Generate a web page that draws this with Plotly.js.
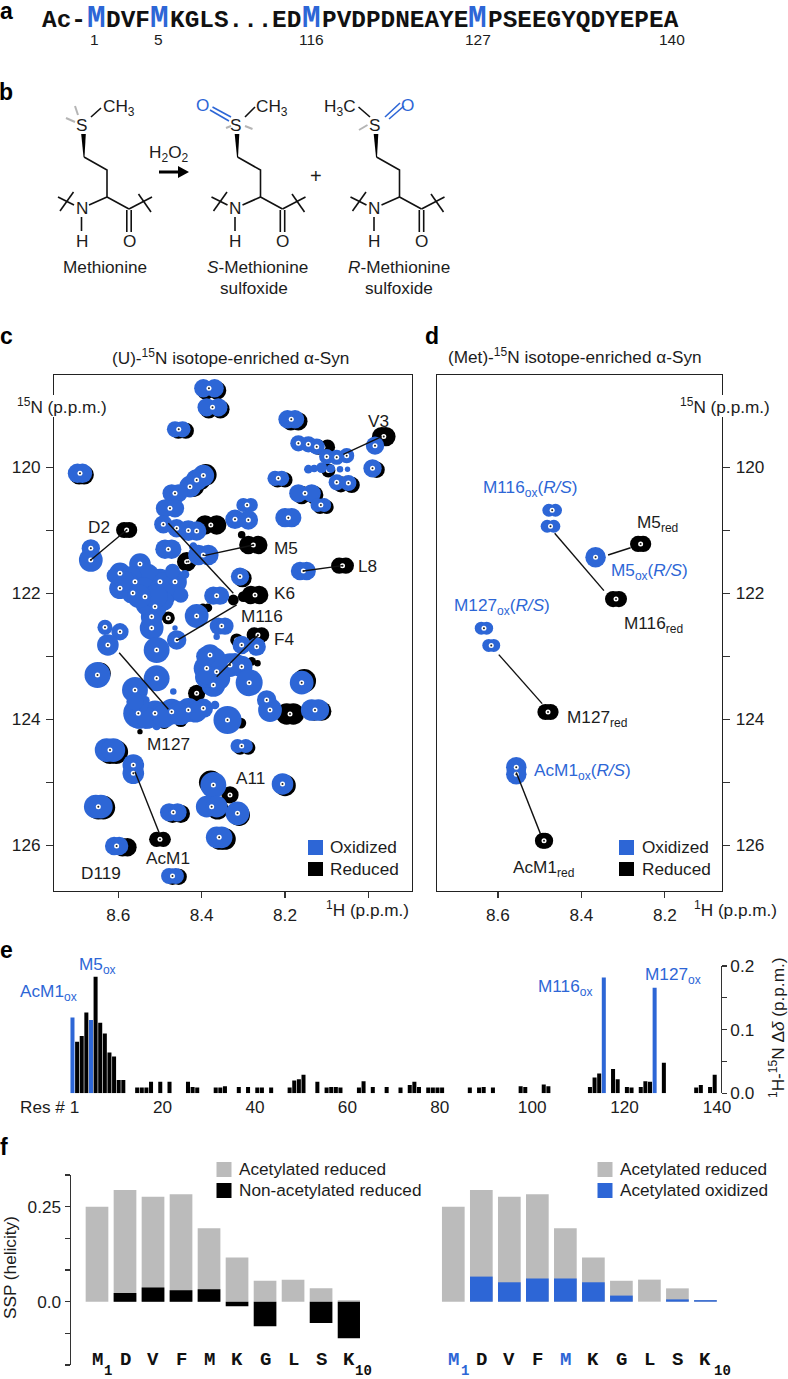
<!DOCTYPE html>
<html><head><meta charset="utf-8">
<script src="https://cdn.plot.ly/plotly-3.0.1.min.js"></script>
<style>html,body{margin:0;padding:0;background:#fff}#g{width:788px;height:1379px}</style>
</head><body><div id="g"></div>
<script>
var W=788,H=1379,BLUE='#2d66d6',INK='#1c1c1c',GREY='#bbbbbb',SANS='"Liberation Sans",Arial,sans-serif',MONO='"Liberation Mono",monospace',FS=17.2,SPOT=1.08;

// ---- panel c: oxidized peaks (1H ppm, 15N ppm, drawn size)
var oxX=[8.396,8.369,8.388,8.360,8.464,8.446,8.194,8.176,8.168,8.144,8.124,7.984,8.100,8.076,8.052,8.144,8.112,8.068,7.99,8.076,8.048,8.224,8.208,8.168,8.136,8.122,8.106,8.698,8.686,8.428,8.412,8.396,8.472,8.456,8.488,8.464,8.30,8.282,8.32,8.288,8.2,8.184,8.492,8.46,8.432,8.412,8.666,8.666,8.488,8.472,8.408,8.384,8.42,8.308,8.164,8.148,8.372,8.356,
8.548,8.596,8.596,8.56,8.50,8.464,8.536,8.512,8.565,8.52,8.52,8.46,8.464,8.508,8.412,8.632,8.596,8.625,
8.36,8.344,8.364,8.304,8.268,8.38,8.388,8.364,8.332,8.304,8.372,8.286,8.16,8.65,8.508,8.56,8.552,8.512,8.472,8.432,8.396,8.368,8.468,8.508,8.338,8.244,8.236,8.136,8.12,8.628,8.612,8.564,8.564,8.314,8.294,8.372,8.388,8.364,8.314,8.206,8.654,8.642,8.478,8.458,8.364,8.352,8.61,8.598,8.478,8.462];
var oxY=[118.746,118.746,119.048,119.048,119.397,119.397,119.238,119.238,119.619,119.635,119.672,119.656,119.831,119.841,119.815,120.03,120.005,120.03,120.016,120.238,120.249,120.175,120.175,120.413,120.413,120.598,120.598,120.095,120.095,120.307,120.201,120.132,120.413,120.413,120.651,120.651,120.598,120.598,120.825,120.836,120.799,120.799,120.905,120.968,121.005,121.011,121.286,121.471,121.30,121.30,121.392,121.392,121.26,121.735,121.646,121.646,122.037,122.037,
121.535,121.683,121.92,121.816,121.816,121.816,122.054,122.213,121.995,122.55,122.37,122.74,122.55,122.9,122.36,122.54,122.61,122.82,
122.52,122.52,122.69,122.82,122.847,122.98,123.19,123.243,123.138,123.164,123.455,123.418,123.418,123.296,123.349,123.534,123.905,123.905,123.878,123.852,123.825,123.772,123.56,124.106,124.01,123.693,123.852,123.852,123.852,124.487,124.487,124.725,124.857,124.423,124.423,125.042,125.386,125.386,125.492,125.026,125.386,125.386,125.476,125.476,125.873,125.873,126.011,126.011,126.487,126.487];
var oxS=[17,17,17,17,15,15,17,17,15,15,15,17,14,14,14,8,10,6,17,15,15,14,14,17,17,13,13,18,18,20,20,20,17,17,17,17,13,13,18,18,18,18,17,17,19,18,17,22,18,18,19,19,8,17,17,17,17,17,
20,20,20,18,24,22,24,22,16,22,20,18,5,24,22,14,16,20,
16,16,6,17,17,20,24,24,22,20,22,25,22,24,24,24,28,24,24,22,18,8,6,8,26,18,22,20,20,22,22,20,20,13,13,24,20,20,22,20,22,22,17,17,20,20,17,17,15,15];

// ---- panel c: overlapping contours that merge the crowded peaks
var oxFillX=[8.53,8.57,8.49,8.54,8.50,8.47,8.575,8.53,8.57,8.52,8.49,8.45,8.376,8.39,8.55,8.535,8.495,8.455,8.415,8.535,8.13,8.09,8.05,8.37,8.39,8.36,8.385,8.32,8.53,8.49,8.45,8.41,8.55,8.56,8.51,8.55,8.585,8.61,8.47,8.44];
var oxFillY=[121.72,121.74,121.85,121.95,121.97,121.98,121.82,122.17,122.02,122.44,122.12,122.03,123.33,123.33,123.98,123.7,123.92,123.9,123.88,124.03,120.02,120.02,120.03,123.05,123.0,123.35,123.3,123.1,123.98,123.95,123.92,123.88,123.75,123.72,122.05,122.05,121.8,121.72,121.65,121.7];
var oxFillS=[22,20,22,24,22,16,18,22,16,18,18,14,20,20,20,8,22,22,20,14,7,8,5,22,18,22,18,18,20,22,20,18,18,16,22,22,18,14,14,8];

// ---- panel c: reduced peaks
var redX=[8.390,8.363,8.383,8.355,8.456,8.438,8.186,8.168,8.12,8.098,7.968,7.958,7.98,8.066,8.04,8.096,8.218,8.20,8.16,8.13,8.116,8.10,8.694,8.682,8.42,8.404,8.39,8.586,8.574,8.392,8.364,8.432,8.288,8.264,8.304,8.302,8.07,8.054,8.282,8.262,8.324,8.30,8.397,8.385,8.48,8.48,8.436,8.274,8.256,8.316,8.266,8.412,8.196,8.18,8.13,8.112,8.644,8.49,8.45,8.62,8.605,8.308,8.288,8.378,8.332,8.362,8.31,8.2,8.648,8.636,8.47,8.45,8.356,8.344,8.59,8.578,8.47,8.455,8.508,8.492,8.154,8.28,8.498,8.548,8.306];
var redY=[118.78,118.78,119.08,119.08,119.42,119.42,119.27,119.27,119.68,119.68,119.513,119.513,120.04,120.27,120.28,120.05,120.2,120.2,120.44,120.44,120.63,120.63,120.12,120.12,120.3,120.19,120.12,120.995,120.995,120.915,120.915,121.497,121.233,121.233,121.07,121.76,121.561,121.561,122.026,122.026,122.106,122.053,122.23,122.23,122.07,122.39,121.5,122.66,122.66,122.74,123.11,123.587,123.915,123.915,123.87,123.87,123.27,124.05,124.02,124.52,124.52,124.45,124.45,125.0,125.2,125.42,125.52,125.05,125.4,125.4,125.5,125.5,125.9,125.9,126.03,126.03,126.5,126.5,125.905,125.905,123.39,123.08,124.04,124.196,124.06];
var redS=[17,17,17,17,15,15,17,17,14,14,18,18,15,15,15,13,14,14,17,17,13,13,18,18,20,20,20,15,15,18,18,15,17,17,7,17,15,15,17,17,10,10,8,8,12,12,18,14,14,12,6,16,20,20,18,18,20,12,12,22,22,13,13,22,16,20,20,20,22,22,17,17,20,20,17,17,15,15,14,14,22,8,10,5,10];

// ---- panel c: assignment lines (pairs of ends, oxidized then reduced)
var linkCX=[8.666,8.58,null,8.06,7.968,null,8.394,8.276,null,8.156,8.062,null,8.48,8.324,null,8.46,8.316,null,8.364,8.264,null,8.598,8.48,null,8.56,8.502];
var linkCY=[121.471,120.995,null,119.794,119.513,null,121.402,121.233,null,121.646,121.561,null,120.889,122.0,null,122.751,122.185,null,123.323,122.66,null,122.942,123.841,null,124.831,125.8];

// ---- panel d: methionine peaks
var dOxX=[8.478,8.462,8.482,8.466,8.366,8.64,8.627,8.622,8.61,8.556,8.556];
var dOxY=[120.681,120.681,120.936,120.936,121.429,122.553,122.553,122.827,122.827,124.76,124.87];
var dOxS=[12,12,12,12,19,12,12,12,12,19,19];
var dRedX=[8.264,8.252,8.324,8.31,8.486,8.474,8.492,8.487];
var dRedY=[121.216,121.216,122.091,122.091,123.884,123.884,125.927,125.927];
var dRedS=[15,15,15,15,15,15,15,15];
var linkDX=[8.464,8.346,null,8.336,8.282,null,8.598,8.494,null,8.556,8.498];
var linkDY=[121.046,121.957,null,121.392,121.277,null,122.973,123.751,null,124.845,125.818];

// ---- panel e: chemical shift difference per residue
var resBlack=[2,3,4,6,7,8,9,10,11,12,15,16,17,18,20,22,26,27,28,32,33,34,37,39,41,42,44,48,49,50,51,54,56,57,58,59,63,64,66,69,72,74,75,76,78,79,80,81,87,89,90,92,98,99,103,104,113,114,115,118,119,121,122,124,125,126,129,136,137,139,140];
var dDelta=[.081,.090,.127,.183,.111,.094,.064,.058,.021,.021,.009,.009,.009,.018,.018,.018,.018,.010,.009,.009,.009,.011,.010,.010,.009,.009,.009,.009,.020,.022,.029,.018,.009,.010,.010,.009,.009,.019,.010,.010,.009,.013,.018,.010,.009,.009,.009,.009,.009,.009,.010,.009,.011,.010,.014,.011,.010,.025,.031,.038,.022,.010,.009,.010,.019,.018,.048,.009,.013,.010,.029];
var resMet=[1,5,116,127];
var dDeltaMet=[.119,.115,.182,.166];
var resTicks=[20,40,60,80,100,120,140];
var deltaTicks=[0,.1,.2];
var deltaLabels=['0.0','0.1','0.2'];
var deltaMinor=[.05,.15];

// ---- panel f: SSP
var residues=['M','D','V','F','M','K','G','L','S','K'];
var position=[1,2,3,4,5,6,7,8,9,10];
var sspAcReduced=[.25,.294,.276,.283,.193,.116,.055,.058,.035,.004];
var sspNonAcReduced=[0,.023,.037,.03,.033,-.012,-.065,0,-.056,-.096];
var sspAcOxidized=[0,.066,.051,.061,.061,.051,.016,0,.006,.004];
var sspTicks=[0,.25];
var sspLabels=['0.0','0.25'];
var sspMinor=[-.16667,-.08333,.08333,.16667,.33333];

// ---- panel b: drawing of the amino acid (page pixels)
var skelX=[84,107,107,129,null,107,89,null,81.5,81.5,null,74,58,null,60,73.5,null,129,152,null,138.5,151,null,126.8,126.8,null,131.2,131.2];
var skelY=[157,170,197,209,null,197,205,null,217,231,null,205,197,null,211,192,null,209,197,null,194,212,null,210,232,null,210,232];
var wedgeX=[81.2,85.8,84.5,83.5,81.2];
var wedgeY=[134,134,157,157,134];
var skelShift=[0,153.5,292.5];
var blackTopX=[91,101,null,245,255,null,358.5,370];
var blackTopY=[117,108,null,117,107,null,107,117];
var greyTopX=[75,78,null,66,75,null,245,252.5,null,231,226,null,367.5,359];
var greyTopY=[106,115,null,118,122,null,126,129,null,126,128,null,125,130];
var blueTopX=[212.5,231,null,210,229,null,385,400,null,389,404];
var blueTopY=[107,117,null,110,121,null,117,103,null,119,106];
var arrowX=[159,178,178,189,178,178,159,159];
var arrowY=[170.5,170.5,166,172,178,173.5,173.5,170.5];

function dx(a,b){return [a/W,b/W];}
function dy(t,b){return [1-b/H,1-t/H];}
var traces=[];
function line(x,y,xa,ya,w,c){traces.push({type:'scatter',mode:'lines',x:x,y:y,xaxis:xa,yaxis:ya,line:{color:c,width:w},hoverinfo:'skip',connectgaps:false,showlegend:false});}
function dots(x,y,xa,ya,s,c){traces.push({type:'scatter',mode:'markers',x:x,y:y,xaxis:xa,yaxis:ya,marker:{size:s,color:c,opacity:1,line:{width:0}},hoverinfo:'skip',showlegend:false});}
// a peak listed as two side-by-side blobs gets one centre, half way between them
function centres(ax,ay,as,min){
  var cx=[],cy=[];
  for(var i=0;i<ax.length;i++){
    if(as[i]<min)continue;
    if(i+1<ax.length&&ay[i+1]===ay[i]&&as[i+1]===as[i]&&Math.abs(ax[i+1]-ax[i])<.04){cx.push((ax[i]+ax[i+1])/2);cy.push(ay[i]);i++;}
    else{cx.push(ax[i]);cy.push(ay[i]);}
  }
  return {x:cx,y:cy};
}
function grow(a){return a.map(function(v){return v*SPOT;});}
function peaks(ax,ay,as,bx,by,bs,fx,fy,fs,lx,ly,xa,ya){
  var ca=centres(ax,ay,as,12),cb=centres(bx,by,bs,12);
  dots(ax,ay,xa,ya,grow(as),'#000');
  dots(ca.x,ca.y,xa,ya,5,'#fff');
  dots(ca.x,ca.y,xa,ya,2,'#222');
  dots(bx,by,xa,ya,grow(bs),BLUE);
  if(fx.length)dots(fx,fy,xa,ya,grow(fs),BLUE);
  dots(cb.x,cb.y,xa,ya,5,'#fff');
  dots(cb.x,cb.y,xa,ya,2,'#222');
  line(lx,ly,xa,ya,1.4,'#111');
}
peaks(redX,redY,redS,oxX,oxY,oxS,oxFillX,oxFillY,oxFillS,linkCX,linkCY,'x','y');
peaks(dRedX,dRedY,dRedS,dOxX,dOxY,dOxS,[],[],[],linkDX,linkDY,'x2','y2');

traces.push({type:'bar',x:resBlack,y:dDelta,width:.87,marker:{color:'#000',line:{width:0}},xaxis:'x3',yaxis:'y3',hoverinfo:'skip',showlegend:false});
traces.push({type:'bar',x:resMet,y:dDeltaMet,width:.87,marker:{color:BLUE,line:{width:0}},xaxis:'x3',yaxis:'y3',hoverinfo:'skip',showlegend:false});

function bars(v,c,xa,ya){traces.push({type:'bar',x:position,y:v,width:.81,marker:{color:c,line:{width:0}},xaxis:xa,yaxis:ya,hoverinfo:'skip',showlegend:false});}
bars(sspAcReduced,GREY,'x4','y4');bars(sspNonAcReduced,'#000','x4','y4');
bars(sspAcReduced,GREY,'x5','y5');bars(sspAcOxidized,BLUE,'x5','y5');

skelShift.forEach(function(s){
  function sh(a){return a.map(function(v){return v===null?null:v+s;});}
  line(sh(skelX),skelY,'x6','y6',1.6,'#111');
  traces.push({type:'scatter',mode:'lines',x:sh(wedgeX),y:wedgeY,fill:'toself',fillcolor:'#000',line:{width:0,color:'#000'},xaxis:'x6',yaxis:'y6',hoverinfo:'skip',showlegend:false});
});
line(blackTopX,blackTopY,'x6','y6',1.6,'#111');
line(greyTopX,greyTopY,'x6','y6',2,'#b5b5b5');
line(blueTopX,blueTopY,'x6','y6',1.6,BLUE);
traces.push({type:'scatter',mode:'lines',x:arrowX,y:arrowY,fill:'toself',fillcolor:'#000',line:{width:0,color:'#000'},xaxis:'x6',yaxis:'y6',hoverinfo:'skip',showlegend:false});

var ann=[];
function T(text,x,y,size,color,anchor,extra){
  var a={text:text,x:x,y:y,xref:'x6',yref:'y6',showarrow:false,xanchor:anchor||'center',yanchor:'middle',borderpad:0,borderwidth:0,
    font:{family:SANS,size:size||FS,color:color||INK}};
  if(extra)for(var k in extra)a[k]=extra[k];
  ann.push(a);
}
// panel letters
[['a',6,11],['b',6,92],['c',6,336],['d',432,336],['e',6,950],['f',4,1147]].forEach(function(p){T('<b>'+p[0]+'</b>',p[1],p[2],23,'#000');});
// panel a
function seq(t,x,c,s,y){T('<b>'+t+'</b>',x,y||20,s||24.4,c||'#111','left',{font:{family:MONO,size:s||24.4,color:c||'#111'}});}
seq('Ac-',42);seq('DVF',106);seq('KGLS...',170);seq('ED',272);seq('PVDPDNEAYE',322);seq('PSEEGYQDYEPEA',488);
[87,150,302,468].forEach(function(x){seq('M',x,BLUE,31,18);});
[['1',94],['5',158],['116',311],['127',478],['140',672]].forEach(function(p){T(p[0],p[1],39,15.5);});
// panel b
skelShift.forEach(function(s){
  T('S',81.5+s,125,FS);T('N',81.5+s,208,FS);T('H',81.5+s,241,FS);T('O',129+s,241,FS);
});
T('CH<sub>3</sub>',119,107,FS);T('CH<sub>3</sub>',272,107,FS);T('H<sub>3</sub>C',340,107,FS);
T('O',202.5,105,FS,BLUE);T('O',407.5,105,FS,BLUE);
T('H<sub>2</sub>O<sub>2</sub>',169,153,FS);T('+',316,176,20);
T('Methionine',105,267);T('<i>S</i>-Methionine',257.5,267);T('sulfoxide',254,288);T('<i>R</i>-Methionine',399,267);T('sulfoxide',398.5,288);
// panel c
T('(U)-<sup>15</sup>N isotope-enriched α-Syn',230,357);
T('<sup>15</sup>N (p.p.m.)',62,406,FS,INK,'center',{bgcolor:'#fff'});
T('<sup>1</sup>H (p.p.m.)',367,909);
[['V3',378,421],['D2',99,527],['M5',286,548],['L8',367,566],['K6',284,593],['M116',262,616],['F4',284,639],['M127',168,744],['A11',250,778],['AcM1',168,858],['D119',101,873]].forEach(function(p){T(p[0],p[1],p[2]);});
// panel d
T('(Met)-<sup>15</sup>N isotope-enriched α-Syn',575,356);
T('<sup>15</sup>N (p.p.m.)',725,406,FS,INK,'center',{bgcolor:'#fff'});
T('<sup>1</sup>H (p.p.m.)',735,909);
[['M116<sub>ox</sub>(<i>R/S</i>)',530,488,BLUE],['M5<sub>red</sub>',657,523,INK],['M5<sub>ox</sub>(<i>R/S</i>)',649,571,BLUE],['M116<sub>red</sub>',653,624,INK],['M127<sub>ox</sub>(<i>R/S</i>)',502,606,BLUE],['M127<sub>red</sub>',597,718,INK],['AcM1<sub>ox</sub>(<i>R/S</i>)',582,771,BLUE],['AcM1<sub>red</sub>',543,868,INK]].forEach(function(p){T(p[0],p[1],p[2],FS,p[3]);});
[330,642].forEach(function(x){T('Oxidized',x,847,FS,INK,'left');T('Reduced',x,869,FS,INK,'left');});
// panel e
[['AcM1<sub>ox</sub>',48,992],['M5<sub>ox</sub>',97,965],['M116<sub>ox</sub>',565,987],['M127<sub>ox</sub>',673,975]].forEach(function(p){T(p[0],p[1],p[2],FS,BLUE);});
T('Res # 1',49,1107);
T('<sup>1</sup>H-<sup>15</sup>N Δ<i>δ</i> (p.p.m.)',777,1028,FS,INK,'center',{textangle:-90});
// panel f
T('SSP (helicity)',10,1268,FS,INK,'center',{textangle:-90});
T('Acetylated reduced',239,1169,FS,INK,'left');T('Non-acetylated reduced',239,1190,FS,INK,'left');
T('Acetylated reduced',620,1169,FS,INK,'left');T('Acetylated oxidized',620,1190,FS,INK,'left');
function letters(xa,colors){
  residues.forEach(function(r,i){
    ann.push({text:'<b>'+r+'</b>',x:position[i],y:1360,xref:xa,yref:'y6',showarrow:false,xanchor:'center',yanchor:'middle',borderpad:0,borderwidth:0,font:{family:MONO,size:19,color:colors[i]}});
  });
}
letters('x4',['#111','#111','#111','#111','#111','#111','#111','#111','#111','#111']);
letters('x5',[BLUE,'#111','#111','#111',BLUE,'#111','#111','#111','#111','#111']);
function sub(t,x,c){T('<b>'+t+'</b>',x,1371,14,c,'center',{font:{family:MONO,size:14,color:c}});}
sub('1',108,'#111');sub('10',363,'#111');sub('1',465,BLUE);sub('10',722,'#111');

function sq(x,t,b,c){return {type:'rect',xref:'x6',yref:'y6',x0:x,x1:x+15,y0:t,y1:b,fillcolor:c,line:{width:0},layer:'above'};}
var shapes=[sq(308,840,855,BLUE),sq(308,862,876,'#000'),sq(619,840,855,BLUE),sq(619,862,876,'#000'),
  sq(216.5,1162,1177,GREY),sq(216.5,1183,1198,'#000'),sq(597.5,1162,1177,GREY),sq(597.5,1183,1198,BLUE)];

function frame(){return {showline:true,linecolor:'#222',linewidth:1.3,mirror:true,ticks:'outside',ticklen:7,tickwidth:1.2,tickcolor:'#333',zeroline:false,showgrid:false,fixedrange:true,tickfont:{family:SANS,size:FS,color:INK},ticklabelstandoff:2};}
function ext(o,e){for(var k in e)o[k]=e[k];return o;}
var nmrY=[120,122,124,126],nmrYMinor=[121,123,125];
var nmrMinorStyle={tickvals:nmrYMinor,ticks:'outside',ticklen:7,tickwidth:1.2,tickcolor:'#333'};
var layout={width:W,height:H,margin:{l:0,r:0,t:0,b:0},paper_bgcolor:'#fff',plot_bgcolor:'rgba(0,0,0,0)',showlegend:false,barmode:'overlay',
  annotations:ann,shapes:shapes,
  xaxis:ext(frame(),{domain:dx(54.3,411.7),range:[8.7536,7.896],anchor:'y',tickvals:[8.6,8.4,8.2],ticktext:['8.6','8.4','8.2'],ticklen:6,minor:{tickvals:[8.0],ticks:'outside',ticklen:6,tickwidth:1.2,tickcolor:'#333'}}),
  yaxis:ext(frame(),{domain:dy(375,890.7),range:[126.72,118.535],anchor:'x',tickvals:nmrY,minor:nmrMinorStyle}),
  xaxis2:ext(frame(),{domain:dx(437,722),range:[8.746,8.063],anchor:'y2',tickvals:[8.6,8.4,8.2],ticktext:['8.6','8.4','8.2'],ticklen:6}),
  yaxis2:ext(frame(),{domain:dy(375,890.7),range:[126.72,118.535],anchor:'x2',side:'right',tickvals:nmrY,minor:nmrMinorStyle}),
  xaxis3:{domain:dx(65,720.7),range:[-.62,141.3],anchor:'y3',showline:false,ticks:'',tickvals:resTicks.map(function(v){return v+.5;}),ticktext:resTicks.map(String),zeroline:false,showgrid:false,fixedrange:true,tickfont:{family:SANS,size:FS,color:INK},ticklabelstandoff:1},
  yaxis3:{domain:dy(966,1093.3),range:[0,.2],anchor:'x3',side:'right',showline:true,linecolor:'#333',linewidth:1.2,ticks:'outside',ticklen:5,tickwidth:1.2,tickcolor:'#333',tickvals:deltaTicks,ticktext:deltaLabels,minor:{tickvals:deltaMinor,ticks:'outside',ticklen:5,tickwidth:1.2,tickcolor:'#333'},zeroline:false,showgrid:false,fixedrange:true,tickfont:{family:SANS,size:FS,color:INK}},
  xaxis4:{domain:dx(70.7,360),range:[.061,10.39],anchor:'y4',visible:false,fixedrange:true},
  yaxis4:{domain:dy(1175,1365),range:[-.16667,.33333],anchor:'x4',showline:true,linecolor:'#333',linewidth:1.2,ticks:'outside',ticklen:5,tickwidth:1.2,tickcolor:'#333',tickvals:sspTicks,ticktext:sspLabels,minor:{tickvals:sspMinor,ticks:'outside',ticklen:5,tickwidth:1.2,tickcolor:'#333'},zeroline:false,showgrid:false,fixedrange:true,tickfont:{family:SANS,size:FS,color:INK}},
  xaxis5:{domain:dx(430,720),range:[.168,10.52],anchor:'y5',visible:false,fixedrange:true},
  yaxis5:{domain:dy(1175,1365),range:[-.16667,.33333],anchor:'x5',visible:false,fixedrange:true},
  xaxis6:{domain:[0,1],range:[0,W],anchor:'y6',visible:false,fixedrange:true},
  yaxis6:{domain:[0,1],range:[H,0],anchor:'x6',visible:false,fixedrange:true}
};
Plotly.newPlot('g',traces,layout,{displayModeBar:false,staticPlot:true});
</script></body></html>
